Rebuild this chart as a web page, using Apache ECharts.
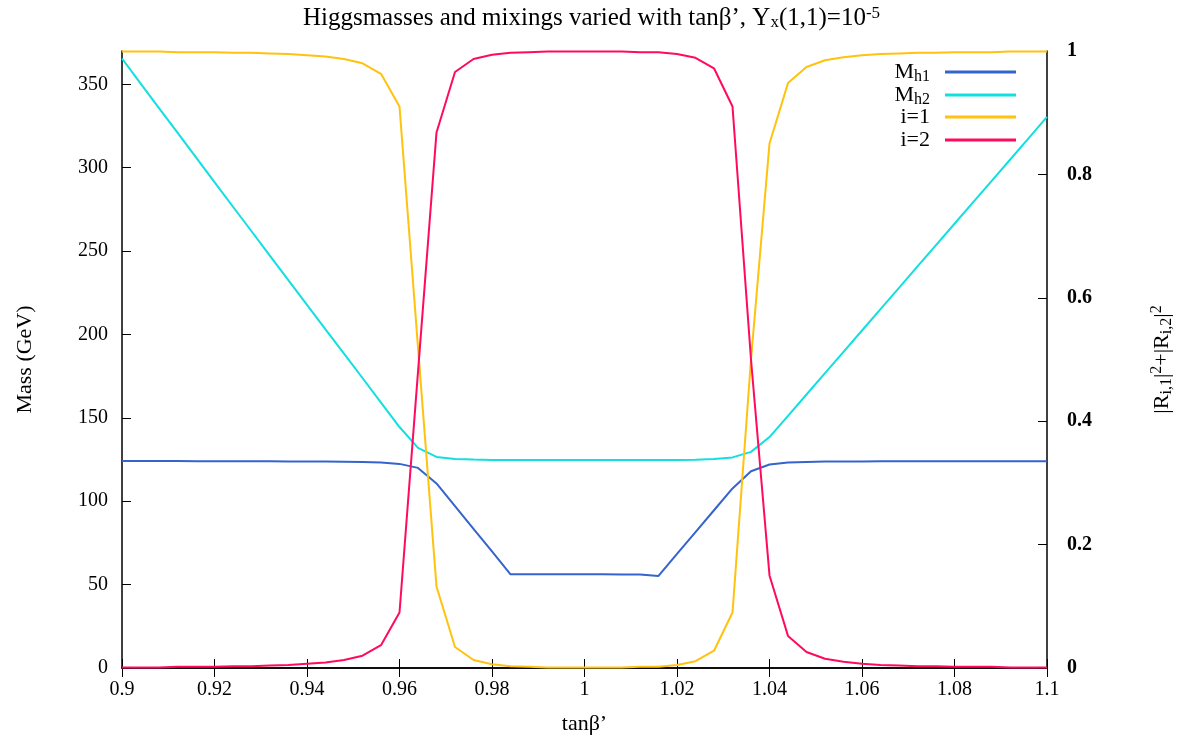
<!DOCTYPE html>
<html>
<head>
    <meta charset="utf-8">
    <title>Higgs masses</title>
    <script src="https://cdn.jsdelivr.net/npm/echarts@6/dist/echarts.min.js"></script>
    <style>
        body { margin: 0; background: #fff; }
        #main { width: 1183px; height: 742px; }
    </style>
</head>
<body>
    <div id="main"></div>
    <script type="text/javascript">
        // tanβ' sample points
        var tanb = [0.900, 0.904, 0.908, 0.912, 0.916, 0.920, 0.924, 0.928, 0.932, 0.936,
                    0.940, 0.944, 0.948, 0.952, 0.956, 0.960, 0.964, 0.968, 0.972, 0.976,
                    0.980, 0.984, 0.988, 0.992, 0.996, 1.000, 1.004, 1.008, 1.012, 1.016,
                    1.020, 1.024, 1.028, 1.032, 1.036, 1.040, 1.044, 1.048, 1.052, 1.056,
                    1.060, 1.064, 1.068, 1.072, 1.076, 1.080, 1.084, 1.088, 1.092, 1.096, 1.100];

        // masses (GeV), left axis
        var mh1 = [124.1, 124.1, 124.1, 124.1, 124.0, 124.0, 124.0, 124.0, 124.0, 123.9,
                   123.9, 123.8, 123.7, 123.5, 123.2, 122.4, 120.0, 110.7, 97.1, 83.5,
                   69.9, 56.2, 56.2, 56.2, 56.2, 56.2, 56.2, 56.1, 56.0, 55.2,
                   68.4, 81.5, 94.6, 107.7, 118.0, 122.0, 123.2, 123.6, 123.8, 123.9,
                   123.9, 124.0, 124.0, 124.0, 124.0, 124.0, 124.0, 124.0, 124.0, 124.0, 124.0];
        var mh2 = [365.5, 350.6, 335.8, 321.0, 306.2, 291.4, 276.6, 261.9, 247.2, 232.5,
                   217.8, 203.1, 188.5, 173.9, 159.2, 144.5, 132.0, 126.6, 125.4, 125.0,
                   124.8, 124.7, 124.7, 124.7, 124.7, 124.7, 124.7, 124.7, 124.7, 124.7,
                   124.7, 124.9, 125.3, 126.3, 129.6, 138.5, 151.2, 164.0, 176.8, 189.6,
                   202.4, 215.2, 228.0, 240.8, 253.6, 266.4, 279.2, 292.0, 304.8, 317.6, 330.5];

        // mixings |R_i1|^2+|R_i2|^2, right axis
        var mix1 = [0.999, 0.999, 0.999, 0.998, 0.998, 0.998, 0.997, 0.997, 0.996, 0.995,
                    0.993, 0.991, 0.987, 0.980, 0.963, 0.910, 0.52, 0.132, 0.034, 0.013,
                    0.006, 0.003, 0.002, 0.001, 0.001, 0.001, 0.001, 0.001, 0.002, 0.002,
                    0.005, 0.011, 0.028, 0.090, 0.50, 0.850, 0.948, 0.974, 0.985, 0.990,
                    0.993, 0.995, 0.996, 0.997, 0.997, 0.998, 0.998, 0.998, 0.999, 0.999, 0.999];
        var mix2 = [0.001, 0.001, 0.001, 0.002, 0.002, 0.002, 0.003, 0.003, 0.004, 0.005,
                    0.007, 0.009, 0.013, 0.020, 0.037, 0.090, 0.48, 0.868, 0.966, 0.987,
                    0.994, 0.997, 0.998, 0.999, 0.999, 0.999, 0.999, 0.999, 0.998, 0.998,
                    0.995, 0.989, 0.972, 0.910, 0.50, 0.150, 0.052, 0.026, 0.015, 0.010,
                    0.007, 0.005, 0.004, 0.003, 0.003, 0.002, 0.002, 0.002, 0.001, 0.001, 0.001];

        var seriesNames = ['Mh1', 'Mh2', 'i=1', 'i=2'];
        var legendLabels = ['{n|M}{sub|h1}', '{n|M}{sub|h2}', '{n|i=1}', '{n|i=2}'];
        var xTicks = { min: 0.9, max: 1.1, interval: 0.02 };
        var massTicks = { min: 0, max: 370, interval: 50 };
        var mixTicks = { min: 0, max: 1, interval: 0.2 };

        function pairs(ys) {
            return tanb.map(function (x, i) { return [x, ys[i]]; });
        }

        var serif = 'Liberation Serif';
        function richSet(size, small) {
            return {
                n: { fontFamily: serif, fontSize: size, fontWeight: 'normal', lineHeight: 26, color: '#000' },
                sub: { fontFamily: serif, fontSize: small, fontWeight: 'normal', lineHeight: 14, verticalAlign: 'bottom', color: '#000' },
                sup: { fontFamily: serif, fontSize: small, fontWeight: 'normal', lineHeight: 14, verticalAlign: 'top', color: '#000' }
            };
        }
        var frame = { show: true, lineStyle: { color: '#000', width: 1.5 } };
        var tick = { show: true, inside: true, length: 9, lineStyle: { color: '#000', width: 1 } };
        var tickFont = { fontFamily: serif, fontSize: 20, color: '#000' };

        // one legend per entry so rows sit at fixed heights, icons right-aligned
        var legendTops = [61, 84, 106, 129];
        var legends = seriesNames.map(function (name, i) {
            return {
                orient: 'vertical',
                align: 'right',
                right: 167,
                top: legendTops[i],
                padding: 0,
                itemWidth: 71,
                itemHeight: 3,
                icon: 'rect',
                formatter: function () { return legendLabels[i]; },
                textStyle: { rich: richSet(22, 16), padding: [0, 10, 0, 0] },
                data: [name]
            };
        });

        var myChart = echarts.init(document.getElementById('main'));

        var option = {
            backgroundColor: '#fff',
            animation: false,
            title: {
                text: '{n|Higgsmasses and mixings varied with tanβ’, Y}{sub|x}{n|(1,1)=10}{sup|-5}',
                left: 'center',
                top: 0,
                textStyle: { fontWeight: 'normal', rich: richSet(25, 17) }
            },
            legend: legends,
            grid: { left: 122, right: 136, top: 51, bottom: 74 },
            xAxis: [{
                type: 'value',
                min: xTicks.min, max: xTicks.max, interval: xTicks.interval,
                name: 'tanβ’',
                nameLocation: 'middle',
                nameGap: 45,
                nameTextStyle: { fontFamily: serif, fontSize: 22, color: '#000' },
                axisLine: frame,
                axisTick: tick,
                axisLabel: Object.assign({ margin: 12 }, tickFont),
                splitLine: { show: false }
            }, {
                type: 'value',
                position: 'top',
                min: xTicks.min, max: xTicks.max, interval: xTicks.interval,
                axisLine: frame,
                axisTick: tick,
                axisLabel: { show: false },
                splitLine: { show: false }
            }],
            yAxis: [{
                type: 'value',
                min: massTicks.min, max: massTicks.max, interval: massTicks.interval,
                name: 'Mass (GeV)',
                nameLocation: 'middle',
                nameGap: 86,
                nameTextStyle: { fontFamily: serif, fontSize: 22, color: '#000' },
                axisLine: frame,
                axisTick: tick,
                axisLabel: Object.assign({ margin: 14, showMaxLabel: false }, tickFont),
                splitLine: { show: false }
            }, {
                type: 'value',
                position: 'right',
                min: mixTicks.min, max: mixTicks.max, interval: mixTicks.interval,
                name: '{n||R}{sub|i,1}{n||}{sup|2}{n|+|R}{sub|i,2}{n||}{sup|2}',
                nameLocation: 'middle',
                nameGap: 102,
                nameTextStyle: { rich: richSet(22, 16) },
                axisLine: frame,
                axisTick: tick,
                axisLabel: Object.assign({ margin: 20, fontWeight: 'bold' }, tickFont),
                splitLine: { show: false }
            }],
            series: [{
                name: 'Mh1', type: 'line', xAxisIndex: 0, yAxisIndex: 0,
                showSymbol: false, color: '#3464cc',
                lineStyle: { width: 2 },
                data: pairs(mh1)
            }, {
                name: 'Mh2', type: 'line', xAxisIndex: 0, yAxisIndex: 0,
                showSymbol: false, color: '#12dfdf',
                lineStyle: { width: 2 },
                data: pairs(mh2)
            }, {
                name: 'i=1', type: 'line', xAxisIndex: 0, yAxisIndex: 1,
                showSymbol: false, color: '#ffc20e',
                lineStyle: { width: 2 },
                data: pairs(mix1)
            }, {
                name: 'i=2', type: 'line', xAxisIndex: 0, yAxisIndex: 1,
                showSymbol: false, color: '#ff0a5f',
                lineStyle: { width: 2 },
                data: pairs(mix2)
            }]
        };

        myChart.setOption(option);
    </script>
</body>
</html>
